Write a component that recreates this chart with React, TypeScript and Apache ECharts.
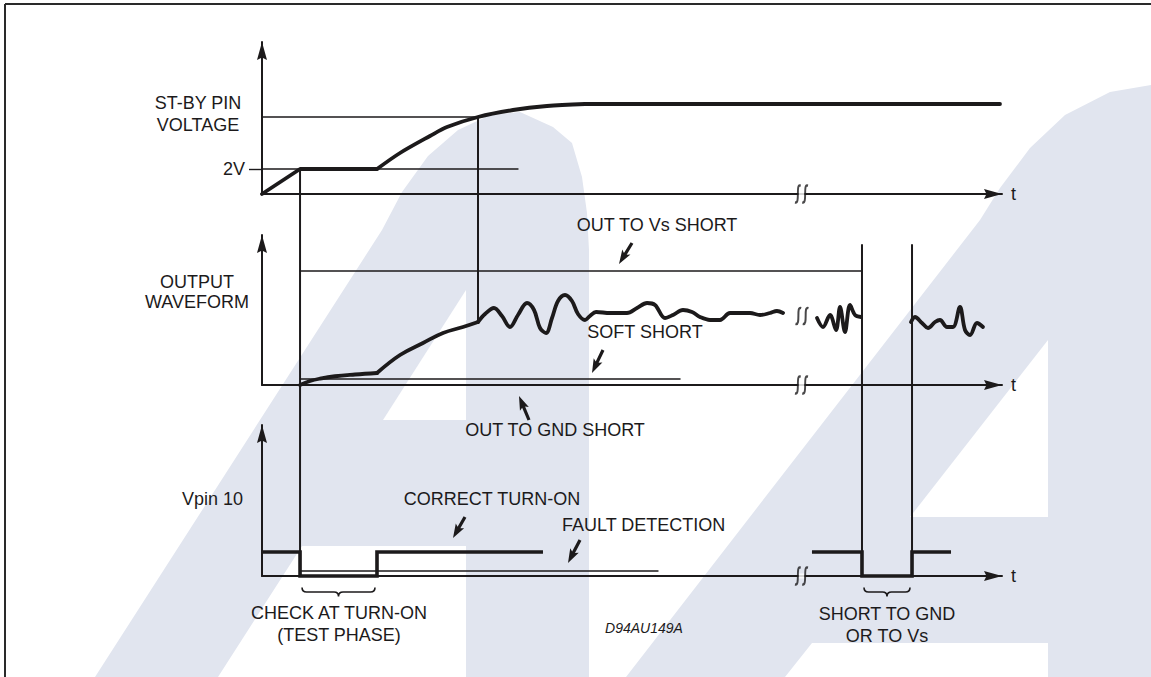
import React, { useEffect, useRef } from "react";
import * as echarts from "echarts";

const INK = "#1c1a1b";
const WASH = "#e1e5ef";
const FONT = "'Liberation Sans', Arial, Helvetica, sans-serif";

// ---- shared time axis (arbitrary units) ----
const T_MAX = 100;
const BREAK_T = 72.9;
const WAVE_BREAK = [72.97, 5.52];

// ---- panel 1 : ST-BY pin voltage ----
const stbyRamp = [[0, 0], [5.14, 2], [15.54, 2]];
const stbyRiseT = [15.54, 18.65, 22.7, 25.0, 29.19, 33.92, 38.51, 43.65];
const stbyRiseV = [2.0, 3.28, 4.64, 5.36, 6.16, 6.72, 7.04, 7.2];
const stbyHold = [[43.65, 7.2], [99.73, 7.2]];
const stbyRef = [[0, 6.16], [29.19, 6.16]];
const stby2V = [[0, 2], [34.59, 2]];
const stbyTicks = [2];

// ---- panel 2 : output waveform ----
const outRiseA = [[5.14, 0], [6.49, 0.32], [7.84, 0.51], [9.86, 0.7], [12.57, 0.84], [15.54, 0.96]];
const outRiseB = [[15.54, 0.96], [18.65, 2.4], [21.76, 3.36], [24.46, 4.16], [27.16, 4.64], [29.19, 5.04]];
const waveT = [29.19, 30.14, 31.35, 32.43, 33.51, 34.59, 35.81, 36.76, 37.57, 38.38, 39.19, 40.0, 40.95, 41.89, 42.7, 43.65, 44.32, 45.14, 47.03, 49.32, 50.68, 52.03, 53.11, 54.46, 55.54, 56.89, 58.11, 59.19, 60.54, 61.89, 63.24, 64.59, 65.95, 67.3, 68.65, 69.59, 70.41];
const waveV = [5.04, 5.68, 6.16, 5.52, 4.64, 5.6, 6.56, 6.0, 4.56, 4.16, 5.36, 6.72, 7.2, 6.72, 5.68, 5.2, 5.52, 5.84, 5.76, 5.76, 6.16, 6.56, 6.4, 5.36, 5.6, 6.0, 5.84, 5.44, 5.2, 5.2, 5.76, 5.76, 5.76, 5.6, 5.76, 5.92, 5.76];
const wave2T = [75.0, 75.81, 76.76, 77.57, 78.11, 78.78, 79.46, 80.14, 80.95];
const wave2V = [5.36, 4.64, 5.6, 4.4, 6.24, 4.24, 6.4, 5.6, 5.44];
const wave3T = [87.7, 88.24, 89.19, 90.0, 90.95, 91.62, 92.57, 93.38, 94.32, 95.0, 95.68, 96.62, 97.43];
const wave3V = [5.04, 5.44, 4.96, 4.56, 5.04, 5.2, 4.64, 4.64, 6.24, 4.4, 4.0, 4.96, 4.64];
const vsShort = [[5.14, 9.12], [81.08, 9.12]];
const softShort = [[5.14, 0.48], [56.49, 0.48]];

// ---- panel 3 : Vpin 10 ----
const vpinStart = [[0, 1.92], [5.14, 1.92], [5.14, 0], [15.54, 0], [15.54, 1.92], [37.97, 1.92]];
const vpinShort = [[74.32, 1.92], [81.08, 1.92], [81.08, 0], [87.84, 0], [87.84, 1.92], [93.11, 1.92]];
const faultLine = [[5.14, 0.4], [53.51, 0.4]];
const braces = [[5.14, 15.54], [81.08, 87.84]];
const BRACE_LEVEL = -0.92;

// ---- vertical event markers spanning panels: time, [panel, level] top, [panel, level] bottom ----
const markerT = [5.14, 29.19, 81.08, 87.84];
const markerTop = [[0, 2.0], [0, 6.16], [1, 11.2], [1, 11.2]];
const markerBottom = [[2, 0], [1, 5.04], [2, 0], [2, 0]];

const zip = (a: number[], b: number[]) => a.map((x, i) => [x, b[i]]);

// layout
const GRIDS = [
  { left: 262, top: 42, width: 740, height: 152 },
  { left: 262, top: 235, width: 740, height: 150 },
  { left: 262, top: 425, width: 740, height: 151 },
  { left: 262, top: 42, width: 740, height: 534 },
];
const Y_MAX = [12.16, 12, 12.08, 42.72];
const PANEL_OFFSET = [30.56, 15.28, 0];

const ARROW_HEAD = "path://M5,0 L10,18 L5,15.5 L0,18 Z";
const BREAK_PATH = "path://M6.5,0.8 C3.8,-0.2 3.8,3 3.8,7 C3.8,11 3.8,14.8 1,14 M13.5,0.8 C10.8,-0.2 10.8,3 10.8,7 C10.8,11 10.8,14.8 8,14";

function arrowPoly(tx: number, ty: number, hx: number, hy: number) {
  const dx = hx - tx, dy = hy - ty;
  const L = Math.hypot(dx, dy);
  const ux = dx / L, uy = dy / L;
  const nx = -uy, ny = ux;
  const head = 12, hw = 4.8, sw = 1.6;
  const bx = hx - ux * head, by = hy - uy * head;
  return [
    [tx + nx * sw, ty + ny * sw],
    [bx + nx * sw, by + ny * sw],
    [bx + nx * hw - ux * 2, by + ny * hw - uy * 2],
    [hx, hy],
    [bx - nx * hw - ux * 2, by - ny * hw - uy * 2],
    [bx - nx * sw, by - ny * sw],
    [tx - nx * sw, ty - ny * sw],
  ];
}

const ANNOTATION_ARROWS = [
  [632, 243, 619, 264],
  [603, 350, 592, 373],
  [529, 420, 519, 396],
  [465, 517, 453, 538],
  [580, 540, 568, 563],
];

const LABELS: Array<[string, number, number, string]> = [
  ["ST-BY PIN", 198, 103, "center"],
  ["VOLTAGE", 198, 125, "center"],
  ["OUTPUT", 197, 282, "center"],
  ["WAVEFORM", 197, 302, "center"],
  ["OUT TO Vs SHORT", 657, 225, "center"],
  ["SOFT SHORT", 645, 332, "center"],
  ["OUT TO GND SHORT", 555, 430, "center"],
  ["Vpin 10", 243, 499, "right"],
  ["CORRECT TURN-ON", 492, 499, "center"],
  ["FAULT DETECTION", 562, 525, "left"],
  ["CHECK AT TURN-ON", 339, 613, "center"],
  ["(TEST PHASE)", 339, 635, "center"],
  ["SHORT TO GND", 887, 614, "center"],
  ["OR TO Vs", 887, 636, "center"],
];

const WASH_A = [[95, 677], [382, 230], [402, 192], [428, 156], [458, 130], [490, 115], [520, 112], [553, 127], [572, 143], [582, 177], [587, 213], [589, 250], [589, 677], [466, 677], [466, 546], [302, 546], [218, 677]];
const HOLE_A = [[383, 420], [466, 290], [466, 420]];
const WASH_B = [[626, 677], [825, 420], [980, 220], [1000, 188], [1030, 148], [1065, 115], [1110, 92], [1151, 85], [1151, 677], [1048, 677], [1048, 643], [812, 643], [785, 677]];
const HOLE_B = [[1048, 340], [1048, 517], [910, 517]];

export default function App() {
  const ref = useRef<HTMLDivElement>(null);

  useEffect(() => {
    if (!ref.current) return;
    const chart = echarts.init(ref.current, undefined, { renderer: "svg" });

    const axisLine = (show: boolean) => ({
      show,
      onZero: false,
      symbol: ["none", ARROW_HEAD],
      symbolSize: [10, 18],
      symbolOffset: [0, -9],
      lineStyle: { color: INK, width: 2 },
    });

    const xAxis = GRIDS.map((_, i) => ({
      type: "value",
      gridIndex: i,
      min: 0,
      max: T_MAX,
      show: i < 3,
      axisLine: axisLine(i < 3),
      axisTick: { show: false },
      axisLabel: { show: false },
      splitLine: { show: false },
      name: i < 3 ? "t" : "",
      nameLocation: "end",
      nameGap: 9,
      nameTextStyle: { color: INK, fontSize: 18, fontFamily: FONT },
    }));

    const yAxis = GRIDS.map((_, i) => ({
      type: "value",
      gridIndex: i,
      min: 0,
      max: Y_MAX[i],
      show: i < 3,
      axisLine: axisLine(i < 3),
      axisTick:
        i === 0
          ? { show: true, customValues: stbyTicks, length: 13, lineStyle: { color: INK, width: 1.4 } }
          : { show: false },
      axisLabel:
        i === 0
          ? {
              show: true,
              customValues: stbyTicks,
              formatter: (v: number) => `${v}V`,
              margin: 17,
              color: INK,
              fontSize: 18,
              fontFamily: FONT,
            }
          : { show: false },
      splitLine: { show: false },
    }));

    const line = (gi: number, data: any, width: number, extra: any = {}) => ({
      type: "line",
      xAxisIndex: gi,
      yAxisIndex: gi,
      data,
      symbol: "none",
      silent: true,
      clip: false,
      lineStyle: { color: INK, width, cap: "round", join: "round" },
      ...extra,
    });

    const series: any[] = [
      // panel 1
      line(0, stbyRef, 1.4),
      line(0, stby2V, 1.4),
      line(0, stbyRamp, 3.8),
      line(0, zip(stbyRiseT, stbyRiseV), 3.8, { smooth: 0.3 }),
      line(0, stbyHold, 3.8),
      // panel 2
      line(1, vsShort, 1.4),
      line(1, softShort, 1.4),
      line(1, outRiseA, 3.8, { smooth: 0.4 }),
      line(1, outRiseB, 3.8, { smooth: 0.4 }),
      line(1, zip(waveT, waveV), 3.8, { smooth: 0.35 }),
      line(1, zip(wave2T, wave2V), 3.8, { smooth: 0.35 }),
      line(1, zip(wave3T, wave3V), 3.8, { smooth: 0.35 }),
      // panel 3
      line(2, faultLine, 1.4),
      line(2, vpinStart, 3.6, { lineStyle: { color: INK, width: 3.6, join: "miter" } }),
      line(2, vpinShort, 3.6, { lineStyle: { color: INK, width: 3.6, join: "miter" } }),
    ];

    // cross-panel vertical markers on the overlay grid
    markerT.forEach((t, k) => {
      const top = PANEL_OFFSET[markerTop[k][0]] + markerTop[k][1];
      const bot = PANEL_OFFSET[markerBottom[k][0]] + markerBottom[k][1];
      series.push(line(3, [[t, top], [t, bot]], 2));
    });

    // axis breaks
    [0, 1, 2].forEach((gi) => {
      series.push({
        type: "scatter",
        xAxisIndex: gi,
        yAxisIndex: gi,
        silent: true,
        data: [[BREAK_T, 0]],
        symbol: "rect",
        symbolSize: [6, 5],
        itemStyle: { color: "#ffffff" },
        z: 3,
      });
      series.push({
        type: "scatter",
        xAxisIndex: gi,
        yAxisIndex: gi,
        silent: true,
        data: [[BREAK_T, 0]],
        symbol: BREAK_PATH,
        symbolSize: [13, 17],
        itemStyle: { color: "none", borderColor: INK, borderWidth: 2.2 },
        z: 4,
      });
    });
    series.push({
      type: "scatter",
      xAxisIndex: 1,
      yAxisIndex: 1,
      silent: true,
      data: [WAVE_BREAK],
      symbol: BREAK_PATH,
      symbolSize: [13, 16],
      itemStyle: { color: "none", borderColor: INK, borderWidth: 2.2 },
      z: 4,
    });

    // braces under the low pulses
    series.push({
      type: "custom",
      xAxisIndex: 2,
      yAxisIndex: 2,
      clip: false,
      silent: true,
      data: braces,
      encode: { x: [0, 1] },
      renderItem: (_p: any, api: any) => {
        const a = api.coord([api.value(0), BRACE_LEVEL]);
        const b = api.coord([api.value(1), BRACE_LEVEL]);
        const x1 = a[0] + 2, x2 = b[0] - 2, y = a[1], h = 9;
        const xm = (x1 + x2) / 2;
        const r = h / 2;
        const d =
          `M${x1},${y} Q${x1},${y + r} ${x1 + r},${y + r} L${xm - r},${y + r} ` +
          `Q${xm},${y + r} ${xm},${y + h} Q${xm},${y + r} ${xm + r},${y + r} ` +
          `L${x2 - r},${y + r} Q${x2},${y + r} ${x2},${y}`;
        return {
          type: "path",
          shape: { pathData: d },
          style: { fill: "none", stroke: INK, lineWidth: 1.6 },
        };
      },
    });

    const graphic: any[] = [
      { type: "polygon", z: -10, shape: { points: WASH_A }, style: { fill: WASH } },
      { type: "polygon", z: -9, shape: { points: HOLE_A }, style: { fill: "#ffffff" } },
      { type: "polygon", z: -10, shape: { points: WASH_B }, style: { fill: WASH } },
      { type: "polygon", z: -9, shape: { points: HOLE_B }, style: { fill: "#ffffff" } },
      { type: "line", z: 10, shape: { x1: 5, y1: 4, x2: 1151, y2: 4 }, style: { stroke: "#2a2a2a", lineWidth: 2 } },
      { type: "line", z: 10, shape: { x1: 5, y1: 4, x2: 5, y2: 677 }, style: { stroke: "#2a2a2a", lineWidth: 2 } },
      ...LABELS.map(([text, x, y, align]) => ({
        type: "text",
        z: 10,
        x,
        y,
        style: { text, fill: INK, fontSize: 18, fontFamily: FONT, align, verticalAlign: "middle" },
      })),
      {
        type: "text",
        z: 10,
        x: 644,
        y: 628,
        style: {
          text: "D94AU149A",
          fill: INK,
          fontSize: 14,
          fontStyle: "italic",
          fontFamily: FONT,
          align: "center",
          verticalAlign: "middle",
        },
      },
      ...ANNOTATION_ARROWS.map(([tx, ty, hx, hy]) => ({
        type: "polygon",
        z: 10,
        shape: { points: arrowPoly(tx, ty, hx, hy) },
        style: { fill: INK },
      })),
    ];

    chart.setOption({
      animation: false,
      backgroundColor: "#ffffff",
      grid: GRIDS.map((g) => ({ ...g, containLabel: false, outerBoundsMode: "none" })),
      xAxis,
      yAxis,
      series,
      graphic,
    });

    return () => chart.dispose();
  }, []);

  return (
    <div
      ref={ref}
      style={{ position: "fixed", left: 0, top: 0, width: 1151, height: 677, background: "#fff" }}
    />
  );
}
